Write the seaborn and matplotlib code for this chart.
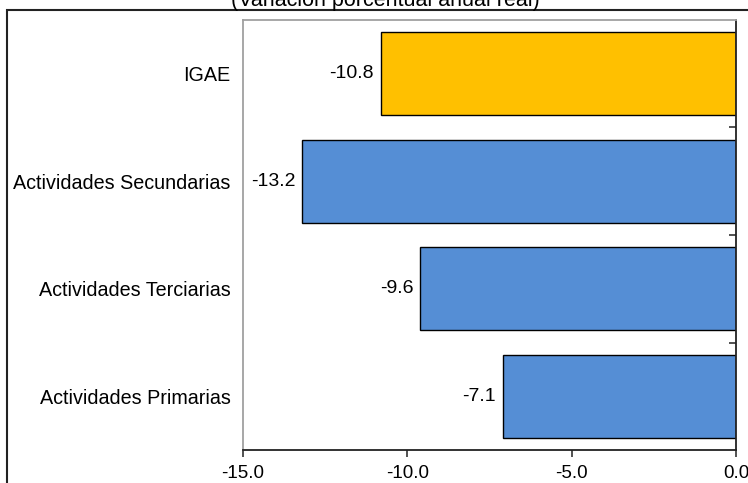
import matplotlib
matplotlib.use("Agg")
import matplotlib.pyplot as plt
import seaborn as sns
import pandas as pd
from matplotlib.patches import Rectangle
from matplotlib.ticker import FixedLocator, FormatStrFormatter

sns.set_theme(style="white")
plt.rcParams['font.family'] = ['Liberation Sans', 'DejaVu Sans']
plt.rcParams['text.color'] = 'black'
plt.rcParams['xtick.color'] = 'black'
plt.rcParams['ytick.color'] = 'black'

# data
sectores = ["IGAE", "Actividades Secundarias", "Actividades Terciarias", "Actividades Primarias"]
variacion = [-10.8, -13.2, -9.6, -7.1]
colores = ["#FFC000", "#558ED5", "#558ED5", "#558ED5"]
titulo = "(Variación porcentual anual real)"
xticks = [-15.0, -10.0, -5.0, 0.0]

df = pd.DataFrame({"Sector": sectores, "Valor": variacion})

fig = plt.figure(figsize=(7.48, 4.83), dpi=100)
ax = fig.add_axes([243 / 748, 1 - 450 / 483, (736 - 243) / 748, (450 - 20) / 483])

sns.barplot(data=df, y="Sector", x="Valor", hue="Sector", palette=colores,
            orient="h", width=0.77, edgecolor="black", linewidth=1.0,
            saturation=1, legend=False, ax=ax)

for cont in ax.containers:
    ax.bar_label(cont, fmt="%.1f", padding=5, fontsize=14, color="black")

ax.set_xlim(-15, 0)
ax.set_ylim(len(sectores) - 0.5, -0.5)
ax.set_xticks(xticks)
ax.xaxis.set_major_formatter(FormatStrFormatter("%.1f"))
ax.set_xlabel("")
ax.set_ylabel("")

# category separators as little ticks on the right spine
ax.yaxis.set_minor_locator(FixedLocator([i + 0.5 for i in range(len(sectores) - 1)]))
ax.tick_params(axis="y", which="major", length=0, pad=9, labelsize=14.2)
ax.tick_params(axis="y", which="minor", left=False, right=True, direction="in",
               length=5, width=1.2, color="#333333")
ax.tick_params(axis="x", which="major", bottom=True, direction="out", length=5,
               width=1.2, color="#333333", pad=6, labelsize=13.5)

for side in ["left", "top"]:
    ax.spines[side].set_color("#a0a0a0")
    ax.spines[side].set_linewidth(1.3)
for side in ["right", "bottom"]:
    ax.spines[side].set_color("#222222")
    ax.spines[side].set_linewidth(1.3)

# outer frame, cut by the picture edges
fig.patches.append(Rectangle((7 / 748, -0.1), 1.2, 1.1 - 10 / 483,
                             transform=fig.transFigure, fill=False,
                             edgecolor="#222222", linewidth=1.5))
fig.text(385 / 748, 1 - 6 / 483, titulo, ha="center", va="baseline", fontsize=15.5)

fig.savefig("out.png", dpi=100)
